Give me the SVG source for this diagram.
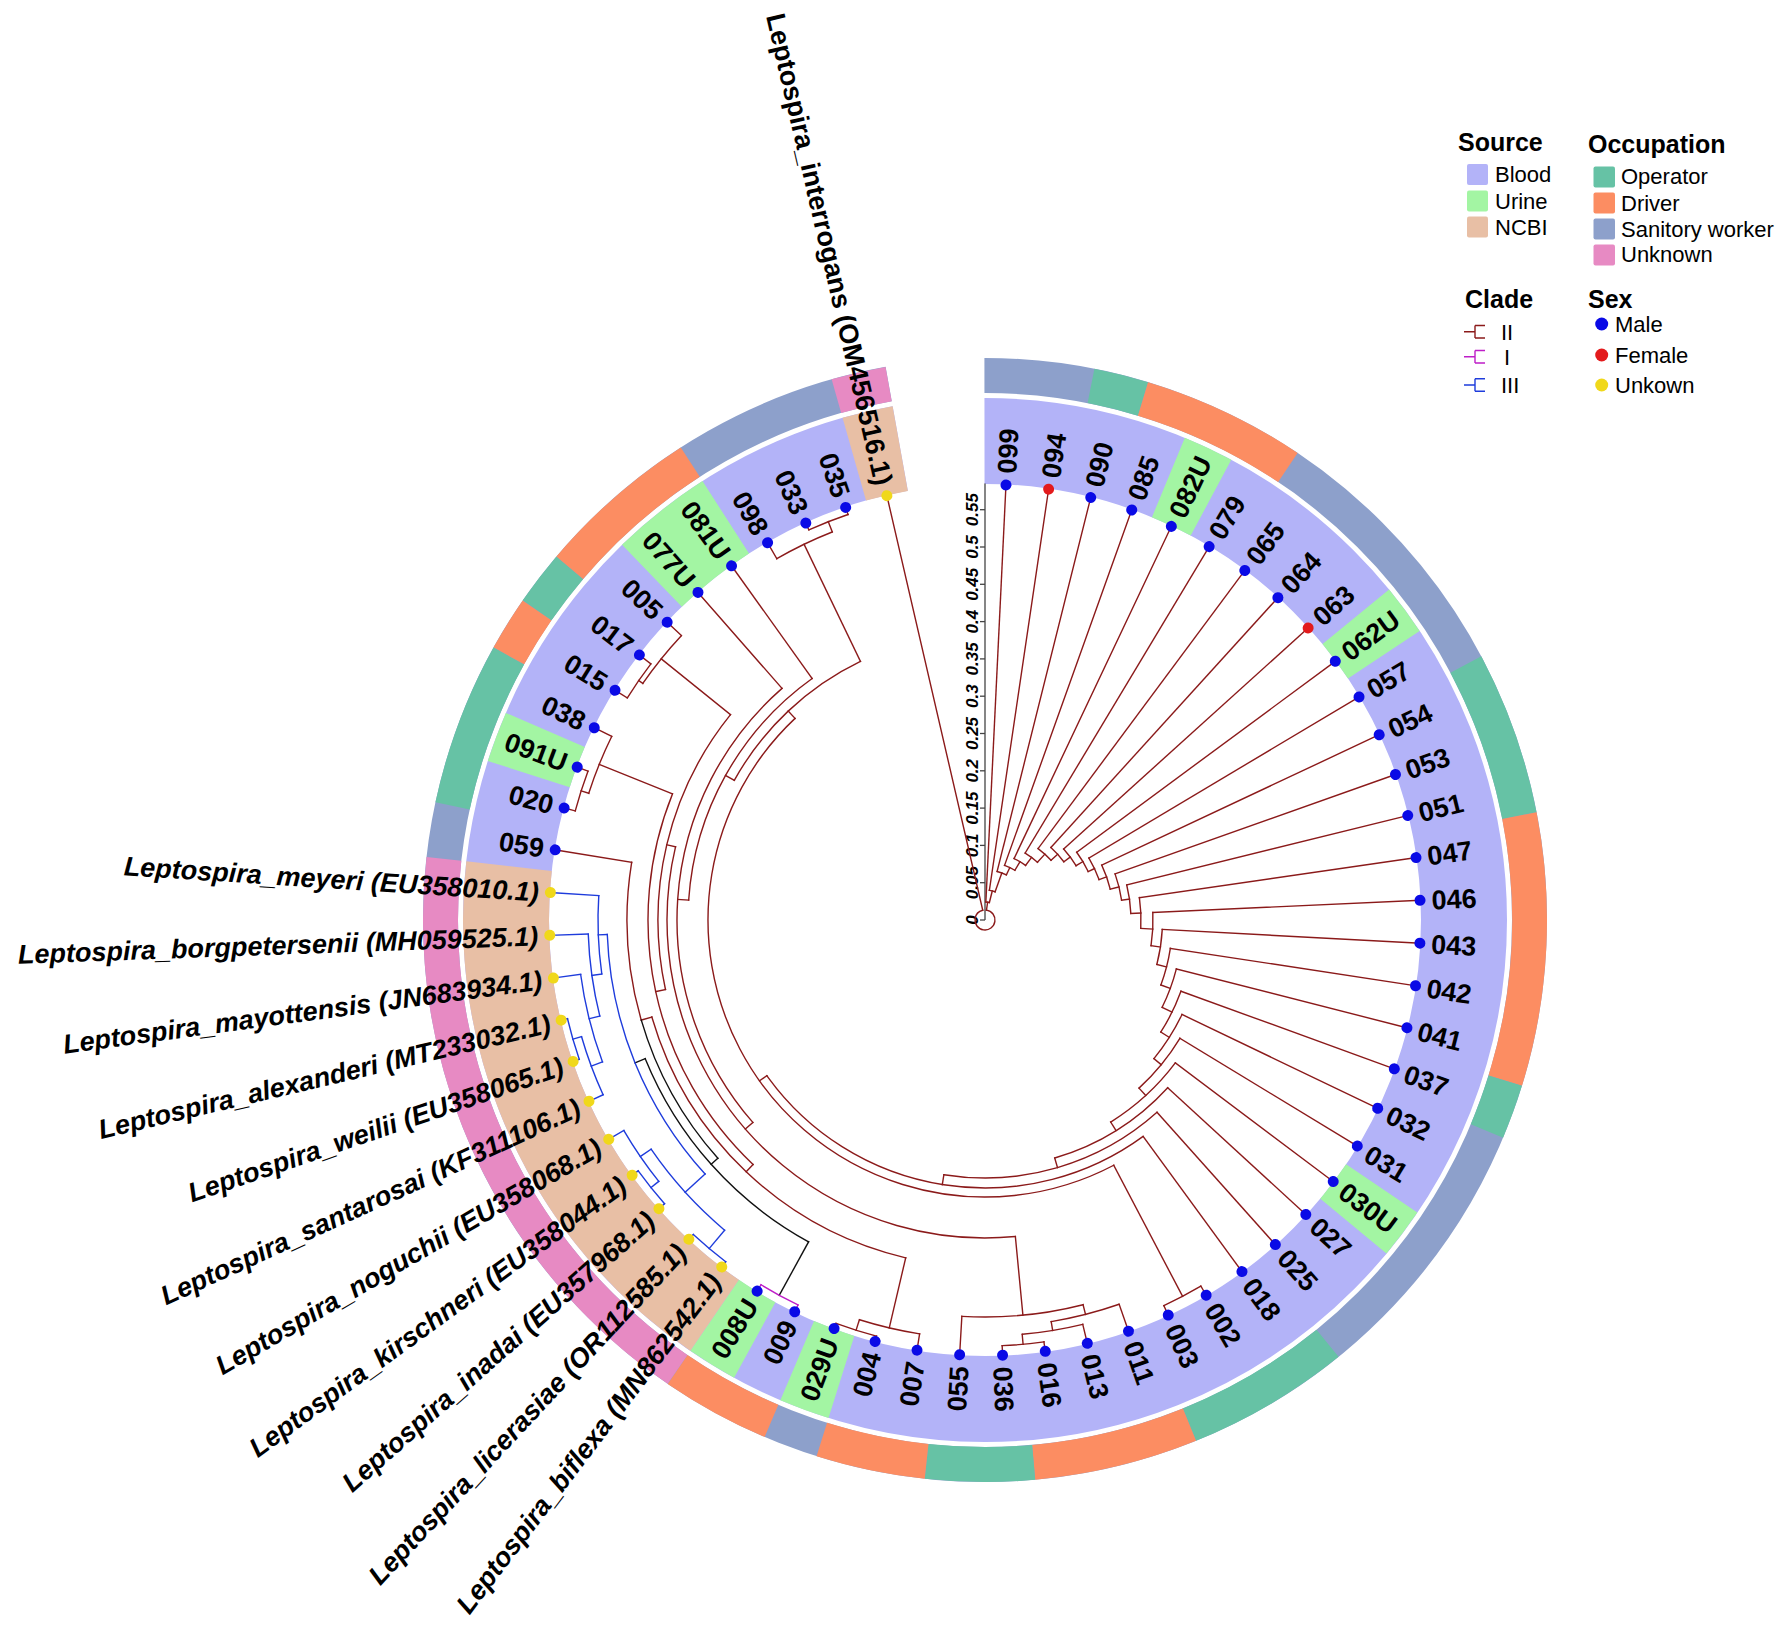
<svg xmlns="http://www.w3.org/2000/svg" width="1784" height="1628" viewBox="0 0 1784 1628">
<style>
text{font-family:'Liberation Sans',Arial,sans-serif;fill:#000}
.lab{font-weight:bold;font-size:27px}
.it{font-style:italic}
.br line,.br circle{fill:none;stroke-width:1.4;stroke-linecap:square}
.r{stroke:#8B1A1A}
.b3{stroke:#1E3CDC}
.b1{stroke:#BE1EC8}
.bk{stroke:#111}
.m{fill:#0A0AE6}
.f{fill:#E31A1C}
.u{fill:#F0D81A}
.ring circle{fill:none}
.leg{font-size:22px}
.legt{font-size:25px;font-weight:bold}
.ax{font-size:17px;font-weight:bold;font-style:italic}
</style>
<rect width="1784" height="1628" fill="#fff"/>

<g id="rings" class="ring" transform="translate(985 920)">
 <g stroke-width="86">
  <circle r="479" pathLength="360" stroke="#B3B3F8" stroke-dasharray="349.87 360" transform="rotate(-90.06)"/>
  <circle r="479" pathLength="360" stroke="#A3F5A3" stroke-dasharray="5.643 360" transform="rotate(-67.488)"/>
  <circle r="479" pathLength="360" stroke="#A3F5A3" stroke-dasharray="5.643 360" transform="rotate(-39.273)"/>
  <circle r="479" pathLength="360" stroke="#A3F5A3" stroke-dasharray="5.643 360" transform="rotate(34.086)"/>
  <circle r="479" pathLength="360" stroke="#A3F5A3" stroke-dasharray="5.643 360" transform="rotate(107.445)"/>
  <circle r="479" pathLength="360" stroke="#A3F5A3" stroke-dasharray="5.643 360" transform="rotate(118.731)"/>
  <circle r="479" pathLength="360" stroke="#E8BFA5" stroke-dasharray="62.073 360" transform="rotate(124.374)"/>
  <circle r="479" pathLength="360" stroke="#A3F5A3" stroke-dasharray="5.643 360" transform="rotate(197.733)"/>
  <circle r="479" pathLength="360" stroke="#A3F5A3" stroke-dasharray="11.286 360" transform="rotate(225.948)"/>
  <circle r="479" pathLength="360" stroke="#E8BFA5" stroke-dasharray="5.643 360" transform="rotate(254.163)"/>
 </g>
 <g stroke-width="35">
  <circle r="544.5" pathLength="360" stroke="#8DA0CB" stroke-dasharray="349.87 360" transform="rotate(-90.06)"/>
  <circle r="544.5" pathLength="360" stroke="#66C2A5" stroke-dasharray="5.643 360" transform="rotate(-78.774)"/>
  <circle r="544.5" pathLength="360" stroke="#FC8D62" stroke-dasharray="16.929 360" transform="rotate(-73.131)"/>
  <circle r="544.5" pathLength="360" stroke="#66C2A5" stroke-dasharray="16.929 360" transform="rotate(-27.987)"/>
  <circle r="544.5" pathLength="360" stroke="#FC8D62" stroke-dasharray="28.215 360" transform="rotate(-11.058)"/>
  <circle r="544.5" pathLength="360" stroke="#66C2A5" stroke-dasharray="5.643 360" transform="rotate(17.157)"/>
  <circle r="544.5" pathLength="360" stroke="#66C2A5" stroke-dasharray="16.929 360" transform="rotate(51.015)"/>
  <circle r="544.5" pathLength="360" stroke="#FC8D62" stroke-dasharray="16.929 360" transform="rotate(67.944)"/>
  <circle r="544.5" pathLength="360" stroke="#66C2A5" stroke-dasharray="11.286 360" transform="rotate(84.873)"/>
  <circle r="544.5" pathLength="360" stroke="#FC8D62" stroke-dasharray="11.286 360" transform="rotate(96.159)"/>
  <circle r="544.5" pathLength="360" stroke="#FC8D62" stroke-dasharray="11.286 360" transform="rotate(113.088)"/>
  <circle r="544.5" pathLength="360" stroke="#E78AC3" stroke-dasharray="62.073 360" transform="rotate(124.374)"/>
  <circle r="544.5" pathLength="360" stroke="#66C2A5" stroke-dasharray="16.929 360" transform="rotate(192.09)"/>
  <circle r="544.5" pathLength="360" stroke="#FC8D62" stroke-dasharray="5.643 360" transform="rotate(209.019)"/>
  <circle r="544.5" pathLength="360" stroke="#66C2A5" stroke-dasharray="5.643 360" transform="rotate(214.662)"/>
  <circle r="544.5" pathLength="360" stroke="#FC8D62" stroke-dasharray="16.929 360" transform="rotate(220.305)"/>
  <circle r="544.5" pathLength="360" stroke="#E78AC3" stroke-dasharray="5.643 360" transform="rotate(254.163)"/>
 </g>
</g>

<g id="scale-axis" transform="translate(985 0)">
 <line x1="0" y1="920" x2="0" y2="483.5" stroke="#444" stroke-width="1.3"/>
 <g stroke="#444" stroke-width="1.3">
  <line x1="-5" y1="920" x2="0" y2="920"/><line x1="-5" y1="882.7" x2="0" y2="882.7"/><line x1="-5" y1="845.4" x2="0" y2="845.4"/><line x1="-5" y1="808.1" x2="0" y2="808.1"/><line x1="-5" y1="770.8" x2="0" y2="770.8"/><line x1="-5" y1="733.5" x2="0" y2="733.5"/><line x1="-5" y1="696.2" x2="0" y2="696.2"/><line x1="-5" y1="658.9" x2="0" y2="658.9"/><line x1="-5" y1="621.6" x2="0" y2="621.6"/><line x1="-5" y1="584.3" x2="0" y2="584.3"/><line x1="-5" y1="547" x2="0" y2="547"/><line x1="-5" y1="509.7" x2="0" y2="509.7"/>
 </g>
 <g class="ax" text-anchor="middle">
  <text transform="translate(-7 920) rotate(-90)">0</text>
  <text transform="translate(-7 882.7) rotate(-90)">0.05</text>
  <text transform="translate(-7 845.4) rotate(-90)">0.1</text>
  <text transform="translate(-7 808.1) rotate(-90)">0.15</text>
  <text transform="translate(-7 770.8) rotate(-90)">0.2</text>
  <text transform="translate(-7 733.5) rotate(-90)">0.25</text>
  <text transform="translate(-7 696.2) rotate(-90)">0.3</text>
  <text transform="translate(-7 658.9) rotate(-90)">0.35</text>
  <text transform="translate(-7 621.6) rotate(-90)">0.4</text>
  <text transform="translate(-7 584.3) rotate(-90)">0.45</text>
  <text transform="translate(-7 547) rotate(-90)">0.5</text>
  <text transform="translate(-7 509.7) rotate(-90)">0.55</text>
 </g>
</g>

<g id="connectors" class="br" transform="translate(985 920)">
 <g class="r">
  <circle r="10" pathLength="360" stroke-dasharray="338.58 360" transform="rotate(-81.6)"/>
  <circle r="18" pathLength="360" stroke-dasharray="11.285 360" transform="rotate(-87.24)"/>
  <circle r="30" pathLength="360" stroke-dasharray="11.29 360" transform="rotate(-81.6)"/>
  <circle r="50" pathLength="360" stroke-dasharray="11.28 360" transform="rotate(-75.95)"/>
  <circle r="58" pathLength="360" stroke-dasharray="11.285 360" transform="rotate(-70.31)"/>
  <circle r="68" pathLength="360" stroke-dasharray="11.29 360" transform="rotate(-64.67)"/>
  <circle r="78" pathLength="360" stroke-dasharray="11.28 360" transform="rotate(-59.02)"/>
  <circle r="89" pathLength="360" stroke-dasharray="11.28 360" transform="rotate(-53.38)"/>
  <circle r="98" pathLength="360" stroke-dasharray="11.285 360" transform="rotate(-47.74)"/>
  <circle r="106" pathLength="360" stroke-dasharray="11.29 360" transform="rotate(-42.1)"/>
  <circle r="114" pathLength="360" stroke-dasharray="11.285 360" transform="rotate(-36.45)"/>
  <circle r="121" pathLength="360" stroke-dasharray="11.29 360" transform="rotate(-30.81)"/>
  <circle r="129" pathLength="360" stroke-dasharray="11.295 360" transform="rotate(-25.17)"/>
  <circle r="138" pathLength="360" stroke-dasharray="11.29 360" transform="rotate(-19.52)"/>
  <circle r="146" pathLength="360" stroke-dasharray="11.305 360" transform="rotate(-13.88)"/>
  <circle r="156" pathLength="360" stroke-dasharray="11.33 360" transform="rotate(-8.24)"/>
  <circle r="168" pathLength="360" stroke-dasharray="11.36 360" transform="rotate(-2.59)"/>
  <circle r="177.5" pathLength="360" stroke-dasharray="11.44 360" transform="rotate(3.05)"/>
  <circle r="187.5" pathLength="360" stroke-dasharray="11.595 360" transform="rotate(8.69)"/>
  <circle r="197.5" pathLength="360" stroke-dasharray="11.91 360" transform="rotate(14.33)"/>
  <circle r="208.5" pathLength="360" stroke-dasharray="12.52 360" transform="rotate(19.98)"/>
  <circle r="218.5" pathLength="360" stroke-dasharray="13.765 360" transform="rotate(25.62)"/>
  <circle r="228" pathLength="360" stroke-dasharray="16.25 360" transform="rotate(31.26)"/>
  <circle r="238" pathLength="360" stroke-dasharray="21.205 360" transform="rotate(36.91)"/>
  <circle r="248" pathLength="360" stroke-dasharray="31.13 360" transform="rotate(42.55)"/>
  <circle r="258" pathLength="360" stroke-dasharray="50.98 360" transform="rotate(48.19)"/>
  <circle r="268" pathLength="360" stroke-dasharray="90.66 360" transform="rotate(53.84)"/>
  <circle r="277" pathLength="360" stroke-dasharray="164.405 360" transform="rotate(62.3)"/>
  <circle r="287" pathLength="360" stroke-dasharray="35.16 360" transform="rotate(209.125)"/>
  <circle r="297" pathLength="360" stroke-dasharray="50.57 360" transform="rotate(183.84)"/>
  <circle r="308" pathLength="360" stroke-dasharray="89.855 360" transform="rotate(138.915)"/>
  <circle r="318" pathLength="360" stroke-dasharray="108.79 360" transform="rotate(84.52)"/>
  <circle r="327" pathLength="360" stroke-dasharray="51.165 360" transform="rotate(167.73)"/>
  <circle r="337" pathLength="360" stroke-dasharray="68.475 360" transform="rotate(133.49)"/>
  <circle r="347" pathLength="360" stroke-dasharray="60.555 360" transform="rotate(103.21)"/>
  <circle r="358" pathLength="360" stroke-dasharray="25.505 360" transform="rotate(163.765)"/>
  <circle r="419" pathLength="360" stroke-dasharray="8.465 360" transform="rotate(98.98)"/>
  <circle r="430" pathLength="360" stroke-dasharray="5.65 360" transform="rotate(104.62)"/>
  <circle r="397" pathLength="360" stroke-dasharray="17.64 360" transform="rotate(75.7)"/>
  <circle r="407" pathLength="360" stroke-dasharray="9.88 360" transform="rotate(70.76)"/>
  <circle r="416" pathLength="360" stroke-dasharray="8.46 360" transform="rotate(76.41)"/>
  <circle r="426" pathLength="360" stroke-dasharray="5.64 360" transform="rotate(82.05)"/>
  <circle r="416" pathLength="360" stroke-dasharray="8.47 360" transform="rotate(197.73)"/>
  <circle r="424" pathLength="360" stroke-dasharray="5.64 360" transform="rotate(194.91)"/>
  <circle r="416" pathLength="360" stroke-dasharray="8.47 360" transform="rotate(214.66)"/>
  <circle r="421" pathLength="360" stroke-dasharray="5.64 360" transform="rotate(211.84)"/>
  <circle r="417" pathLength="360" stroke-dasharray="8.47 360" transform="rotate(240.05)"/>
  <circle r="428" pathLength="360" stroke-dasharray="5.64 360" transform="rotate(245.7)"/>
  <circle r="425" pathLength="360" stroke-dasharray="5.64 360" transform="rotate(59.48)"/>
  <line y1="-10" y2="-18" transform="rotate(8.4)"/>
  <line y1="-10" y2="-435.5" transform="rotate(346.98)"/>
  <line y1="-18" y2="-435.5" transform="rotate(2.76)"/>
  <line y1="-18" y2="-30" transform="rotate(14.045)"/>
  <line y1="-30" y2="-435.5" transform="rotate(8.4)"/>
  <line y1="-30" y2="-50" transform="rotate(19.69)"/>
  <line y1="-50" y2="-435.5" transform="rotate(14.05)"/>
  <line y1="-50" y2="-58" transform="rotate(25.33)"/>
  <line y1="-58" y2="-435.5" transform="rotate(19.69)"/>
  <line y1="-58" y2="-68" transform="rotate(30.975)"/>
  <line y1="-68" y2="-435.5" transform="rotate(25.33)"/>
  <line y1="-68" y2="-78" transform="rotate(36.62)"/>
  <line y1="-78" y2="-435.5" transform="rotate(30.98)"/>
  <line y1="-78" y2="-89" transform="rotate(42.26)"/>
  <line y1="-89" y2="-435.5" transform="rotate(36.62)"/>
  <line y1="-89" y2="-98" transform="rotate(47.9)"/>
  <line y1="-98" y2="-435.5" transform="rotate(42.26)"/>
  <line y1="-98" y2="-106" transform="rotate(53.545)"/>
  <line y1="-106" y2="-435.5" transform="rotate(47.9)"/>
  <line y1="-106" y2="-114" transform="rotate(59.19)"/>
  <line y1="-114" y2="-435.5" transform="rotate(53.55)"/>
  <line y1="-114" y2="-121" transform="rotate(64.835)"/>
  <line y1="-121" y2="-435.5" transform="rotate(59.19)"/>
  <line y1="-121" y2="-129" transform="rotate(70.48)"/>
  <line y1="-129" y2="-435.5" transform="rotate(64.83)"/>
  <line y1="-129" y2="-138" transform="rotate(76.125)"/>
  <line y1="-138" y2="-435.5" transform="rotate(70.48)"/>
  <line y1="-138" y2="-146" transform="rotate(81.77)"/>
  <line y1="-146" y2="-435.5" transform="rotate(76.12)"/>
  <line y1="-146" y2="-156" transform="rotate(87.425)"/>
  <line y1="-156" y2="-435.5" transform="rotate(81.76)"/>
  <line y1="-156" y2="-168" transform="rotate(93.09)"/>
  <line y1="-168" y2="-435.5" transform="rotate(87.41)"/>
  <line y1="-168" y2="-177.5" transform="rotate(98.77)"/>
  <line y1="-177.5" y2="-435.5" transform="rotate(93.05)"/>
  <line y1="-177.5" y2="-187.5" transform="rotate(104.49)"/>
  <line y1="-187.5" y2="-435.5" transform="rotate(98.69)"/>
  <line y1="-187.5" y2="-197.5" transform="rotate(110.285)"/>
  <line y1="-197.5" y2="-435.5" transform="rotate(104.33)"/>
  <line y1="-197.5" y2="-208.5" transform="rotate(116.24)"/>
  <line y1="-208.5" y2="-435.5" transform="rotate(109.98)"/>
  <line y1="-208.5" y2="-218.5" transform="rotate(122.5)"/>
  <line y1="-218.5" y2="-435.5" transform="rotate(115.62)"/>
  <line y1="-218.5" y2="-228" transform="rotate(129.385)"/>
  <line y1="-228" y2="-435.5" transform="rotate(121.26)"/>
  <line y1="-228" y2="-238" transform="rotate(137.51)"/>
  <line y1="-238" y2="-435.5" transform="rotate(126.91)"/>
  <line y1="-238" y2="-248" transform="rotate(148.115)"/>
  <line y1="-248" y2="-435.5" transform="rotate(132.55)"/>
  <line y1="-248" y2="-258" transform="rotate(163.68)"/>
  <line y1="-258" y2="-435.5" transform="rotate(138.19)"/>
  <line y1="-258" y2="-268" transform="rotate(189.17)"/>
  <line y1="-268" y2="-435.5" transform="rotate(143.84)"/>
  <line y1="-268" y2="-277" transform="rotate(234.5)"/>
  <line y1="-277" y2="-425" transform="rotate(152.3)"/>
  <line y1="-277" y2="-287" transform="rotate(316.705)"/>
  <line y1="-425" y2="-435.5" transform="rotate(149.48)"/>
  <line y1="-425" y2="-435.5" transform="rotate(155.12)"/>
  <line y1="-287" y2="-417" transform="rotate(334.285)"/>
  <line y1="-287" y2="-297" transform="rotate(299.125)"/>
  <line y1="-417" y2="-435.5" transform="rotate(330.05)"/>
  <line y1="-417" y2="-428" transform="rotate(338.52)"/>
  <line y1="-428" y2="-435.5" transform="rotate(335.7)"/>
  <line y1="-428" y2="-435.5" transform="rotate(341.34)"/>
  <line y1="-297" y2="-435.5" transform="rotate(324.41)"/>
  <line y1="-297" y2="-308" transform="rotate(273.84)"/>
  <line y1="-308" y2="-435.5" transform="rotate(318.77)"/>
  <line y1="-308" y2="-318" transform="rotate(228.915)"/>
  <line y1="-318" y2="-397" transform="rotate(174.52)"/>
  <line y1="-318" y2="-327" transform="rotate(283.31)"/>
  <line y1="-397" y2="-435.5" transform="rotate(183.34)"/>
  <line y1="-397" y2="-407" transform="rotate(165.7)"/>
  <line y1="-407" y2="-435.5" transform="rotate(160.76)"/>
  <line y1="-407" y2="-416" transform="rotate(170.64)"/>
  <line y1="-416" y2="-435.5" transform="rotate(166.41)"/>
  <line y1="-416" y2="-426" transform="rotate(174.87)"/>
  <line y1="-426" y2="-435.5" transform="rotate(172.05)"/>
  <line y1="-426" y2="-435.5" transform="rotate(177.69)"/>
  <line y1="-327" y2="-416" transform="rotate(308.895)"/>
  <line y1="-327" y2="-337" transform="rotate(257.73)"/>
  <line y1="-416" y2="-435.5" transform="rotate(313.13)"/>
  <line y1="-416" y2="-421" transform="rotate(304.66)"/>
  <line y1="-421" y2="-435.5" transform="rotate(301.84)"/>
  <line y1="-421" y2="-435.5" transform="rotate(307.48)"/>
  <line y1="-337" y2="-416" transform="rotate(291.965)"/>
  <line y1="-337" y2="-347" transform="rotate(223.49)"/>
  <line y1="-416" y2="-435.5" transform="rotate(296.2)"/>
  <line y1="-416" y2="-424" transform="rotate(287.73)"/>
  <line y1="-424" y2="-435.5" transform="rotate(290.55)"/>
  <line y1="-424" y2="-435.5" transform="rotate(284.91)"/>
  <line y1="-347" y2="-419" transform="rotate(193.21)"/>
  <line y1="-347" y2="-358" transform="rotate(253.765)"/>
  <line y1="-419" y2="-435.5" transform="rotate(188.98)"/>
  <line y1="-419" y2="-430" transform="rotate(197.445)"/>
  <line y1="-430" y2="-435.5" transform="rotate(200.27)"/>
  <line y1="-430" y2="-435.5" transform="rotate(194.62)"/>
  <line y1="-358" y2="-435.5" transform="rotate(279.27)"/>
 </g>
 <g class="bk">
  <circle r="358" pathLength="360" stroke-dasharray="25.505 360" transform="rotate(138.26)"/>
  <circle r="367" pathLength="360" stroke-dasharray="39.06 360" transform="rotate(118.73)"/>
  <line y1="-358" y2="-367" transform="rotate(228.26)"/>
  <line y1="-367" y2="-378" transform="rotate(247.79)"/>
  <line y1="-367" y2="-428" transform="rotate(208.73)"/>
 </g>
 <g class="b1">
  <circle r="428" pathLength="360" stroke-dasharray="5.64 360" transform="rotate(115.91)"/>
  <line y1="-428" y2="-435.5" transform="rotate(205.91)"/>
  <line y1="-428" y2="-435.5" transform="rotate(211.55)"/>
 </g>
 <g class="b3">
  <circle r="378" pathLength="360" stroke-dasharray="40.025 360" transform="rotate(137.775)"/>
  <circle r="387" pathLength="360" stroke-dasharray="11.635 360" transform="rotate(171.985)"/>
  <circle r="397" pathLength="360" stroke-dasharray="11.99 360" transform="rotate(165.99)"/>
  <circle r="408" pathLength="360" stroke-dasharray="12.7 360" transform="rotate(159.64)"/>
  <circle r="420" pathLength="360" stroke-dasharray="8.465 360" transform="rotate(155.41)"/>
  <circle r="429" pathLength="360" stroke-dasharray="5.65 360" transform="rotate(161.05)"/>
  <circle r="405" pathLength="360" stroke-dasharray="15.52 360" transform="rotate(130.015)"/>
  <circle r="418" pathLength="360" stroke-dasharray="8.47 360" transform="rotate(141.3)"/>
  <circle r="428" pathLength="360" stroke-dasharray="5.64 360" transform="rotate(138.48)"/>
  <circle r="429" pathLength="360" stroke-dasharray="5.65 360" transform="rotate(127.19)"/>
  <line y1="-378" y2="-387" transform="rotate(267.8)"/>
  <line y1="-378" y2="-405" transform="rotate(227.775)"/>
  <line y1="-387" y2="-435.5" transform="rotate(273.62)"/>
  <line y1="-387" y2="-397" transform="rotate(261.985)"/>
  <line y1="-397" y2="-435.5" transform="rotate(267.98)"/>
  <line y1="-397" y2="-408" transform="rotate(255.99)"/>
  <line y1="-408" y2="-435.5" transform="rotate(262.34)"/>
  <line y1="-408" y2="-420" transform="rotate(249.64)"/>
  <line y1="-420" y2="-435.5" transform="rotate(245.41)"/>
  <line y1="-420" y2="-429" transform="rotate(253.875)"/>
  <line y1="-429" y2="-435.5" transform="rotate(256.7)"/>
  <line y1="-429" y2="-435.5" transform="rotate(251.05)"/>
  <line y1="-405" y2="-418" transform="rotate(235.535)"/>
  <line y1="-405" y2="-429" transform="rotate(220.015)"/>
  <line y1="-418" y2="-435.5" transform="rotate(239.77)"/>
  <line y1="-418" y2="-428" transform="rotate(231.3)"/>
  <line y1="-428" y2="-435.5" transform="rotate(234.12)"/>
  <line y1="-428" y2="-435.5" transform="rotate(228.48)"/>
  <line y1="-429" y2="-435.5" transform="rotate(222.84)"/>
  <line y1="-429" y2="-435.5" transform="rotate(217.19)"/>
 </g>
</g>

<g id="leaves" transform="translate(985 920)" class="lab">
 <g id="n099"><circle class="m" cy="-435.5" r="5.5" transform="rotate(2.76)"/><text x="447" dy="0.36em" transform="rotate(-87.24)">099</text></g>
 <g id="n094"><circle class="f" cy="-435.5" r="5.5" transform="rotate(8.4)"/><text x="447" dy="0.36em" transform="rotate(-81.6)">094</text></g>
 <g id="n090"><circle class="m" cy="-435.5" r="5.5" transform="rotate(14.05)"/><text x="447" dy="0.36em" transform="rotate(-75.95)">090</text></g>
 <g id="n085"><circle class="m" cy="-435.5" r="5.5" transform="rotate(19.69)"/><text x="447" dy="0.36em" transform="rotate(-70.31)">085</text></g>
 <g id="n082U"><circle class="m" cy="-435.5" r="5.5" transform="rotate(25.33)"/><text x="447" dy="0.36em" transform="rotate(-64.67)">082U</text></g>
 <g id="n079"><circle class="m" cy="-435.5" r="5.5" transform="rotate(30.98)"/><text x="447" dy="0.36em" transform="rotate(-59.02)">079</text></g>
 <g id="n065"><circle class="m" cy="-435.5" r="5.5" transform="rotate(36.62)"/><text x="447" dy="0.36em" transform="rotate(-53.38)">065</text></g>
 <g id="n064"><circle class="m" cy="-435.5" r="5.5" transform="rotate(42.26)"/><text x="447" dy="0.36em" transform="rotate(-47.74)">064</text></g>
 <g id="n063"><circle class="f" cy="-435.5" r="5.5" transform="rotate(47.9)"/><text x="447" dy="0.36em" transform="rotate(-42.1)">063</text></g>
 <g id="n062U"><circle class="m" cy="-435.5" r="5.5" transform="rotate(53.55)"/><text x="447" dy="0.36em" transform="rotate(-36.45)">062U</text></g>
 <g id="n057"><circle class="m" cy="-435.5" r="5.5" transform="rotate(59.19)"/><text x="447" dy="0.36em" transform="rotate(-30.81)">057</text></g>
 <g id="n054"><circle class="m" cy="-435.5" r="5.5" transform="rotate(64.83)"/><text x="447" dy="0.36em" transform="rotate(-25.17)">054</text></g>
 <g id="n053"><circle class="m" cy="-435.5" r="5.5" transform="rotate(70.48)"/><text x="447" dy="0.36em" transform="rotate(-19.52)">053</text></g>
 <g id="n051"><circle class="m" cy="-435.5" r="5.5" transform="rotate(76.12)"/><text x="447" dy="0.36em" transform="rotate(-13.88)">051</text></g>
 <g id="n047"><circle class="m" cy="-435.5" r="5.5" transform="rotate(81.76)"/><text x="447" dy="0.36em" transform="rotate(-8.24)">047</text></g>
 <g id="n046"><circle class="m" cy="-435.5" r="5.5" transform="rotate(87.41)"/><text x="447" dy="0.36em" transform="rotate(-2.59)">046</text></g>
 <g id="n043"><circle class="m" cy="-435.5" r="5.5" transform="rotate(93.05)"/><text x="447" dy="0.36em" transform="rotate(3.05)">043</text></g>
 <g id="n042"><circle class="m" cy="-435.5" r="5.5" transform="rotate(98.69)"/><text x="447" dy="0.36em" transform="rotate(8.69)">042</text></g>
 <g id="n041"><circle class="m" cy="-435.5" r="5.5" transform="rotate(104.33)"/><text x="447" dy="0.36em" transform="rotate(14.33)">041</text></g>
 <g id="n037"><circle class="m" cy="-435.5" r="5.5" transform="rotate(109.98)"/><text x="447" dy="0.36em" transform="rotate(19.98)">037</text></g>
 <g id="n032"><circle class="m" cy="-435.5" r="5.5" transform="rotate(115.62)"/><text x="447" dy="0.36em" transform="rotate(25.62)">032</text></g>
 <g id="n031"><circle class="m" cy="-435.5" r="5.5" transform="rotate(121.26)"/><text x="447" dy="0.36em" transform="rotate(31.26)">031</text></g>
 <g id="n030U"><circle class="m" cy="-435.5" r="5.5" transform="rotate(126.91)"/><text x="447" dy="0.36em" transform="rotate(36.91)">030U</text></g>
 <g id="n027"><circle class="m" cy="-435.5" r="5.5" transform="rotate(132.55)"/><text x="447" dy="0.36em" transform="rotate(42.55)">027</text></g>
 <g id="n025"><circle class="m" cy="-435.5" r="5.5" transform="rotate(138.19)"/><text x="447" dy="0.36em" transform="rotate(48.19)">025</text></g>
 <g id="n018"><circle class="m" cy="-435.5" r="5.5" transform="rotate(143.84)"/><text x="447" dy="0.36em" transform="rotate(53.84)">018</text></g>
 <g id="n002"><circle class="m" cy="-435.5" r="5.5" transform="rotate(149.48)"/><text x="447" dy="0.36em" transform="rotate(59.48)">002</text></g>
 <g id="n003"><circle class="m" cy="-435.5" r="5.5" transform="rotate(155.12)"/><text x="447" dy="0.36em" transform="rotate(65.12)">003</text></g>
 <g id="n011"><circle class="m" cy="-435.5" r="5.5" transform="rotate(160.76)"/><text x="447" dy="0.36em" transform="rotate(70.76)">011</text></g>
 <g id="n013"><circle class="m" cy="-435.5" r="5.5" transform="rotate(166.41)"/><text x="447" dy="0.36em" transform="rotate(76.41)">013</text></g>
 <g id="n016"><circle class="m" cy="-435.5" r="5.5" transform="rotate(172.05)"/><text x="447" dy="0.36em" transform="rotate(82.05)">016</text></g>
 <g id="n036"><circle class="m" cy="-435.5" r="5.5" transform="rotate(177.69)"/><text x="447" dy="0.36em" transform="rotate(87.69)">036</text></g>
 <g text-anchor="end">
 <g id="n055"><circle class="m" cy="-435.5" r="5.5" transform="rotate(183.34)"/><text x="-447" dy="0.36em" transform="rotate(273.34)">055</text></g>
 <g id="n007"><circle class="m" cy="-435.5" r="5.5" transform="rotate(188.98)"/><text x="-447" dy="0.36em" transform="rotate(278.98)">007</text></g>
 <g id="n004"><circle class="m" cy="-435.5" r="5.5" transform="rotate(194.62)"/><text x="-447" dy="0.36em" transform="rotate(284.62)">004</text></g>
 <g id="n029U"><circle class="m" cy="-435.5" r="5.5" transform="rotate(200.27)"/><text x="-447" dy="0.36em" transform="rotate(290.27)">029U</text></g>
 <g id="n009"><circle class="m" cy="-435.5" r="5.5" transform="rotate(205.91)"/><text x="-447" dy="0.36em" transform="rotate(295.91)">009</text></g>
 <g id="n008U"><circle class="m" cy="-435.5" r="5.5" transform="rotate(211.55)"/><text x="-447" dy="0.36em" transform="rotate(301.55)">008U</text></g>
 <g id="n-biflexa"><circle class="u" cy="-435.5" r="5.5" transform="rotate(217.19)"/><text class="it" x="-447" dy="0.36em" transform="rotate(307.19)">Leptospira_biflexa (MN862542.1)</text></g>
 <g id="n-licerasiae"><circle class="u" cy="-435.5" r="5.5" transform="rotate(222.84)"/><text class="it" x="-447" dy="0.36em" transform="rotate(312.84)">Leptospira_licerasiae (OR112585.1)</text></g>
 <g id="n-inadai"><circle class="u" cy="-435.5" r="5.5" transform="rotate(228.48)"/><text class="it" x="-447" dy="0.36em" transform="rotate(318.48)">Leptospira_inadai (EU357968.1)</text></g>
 <g id="n-kirschneri"><circle class="u" cy="-435.5" r="5.5" transform="rotate(234.12)"/><text class="it" x="-447" dy="0.36em" transform="rotate(324.12)">Leptospira_kirschneri (EU358044.1)</text></g>
 <g id="n-noguchii"><circle class="u" cy="-435.5" r="5.5" transform="rotate(239.77)"/><text class="it" x="-447" dy="0.36em" transform="rotate(329.77)">Leptospira_noguchii (EU358068.1)</text></g>
 <g id="n-santarosai"><circle class="u" cy="-435.5" r="5.5" transform="rotate(245.41)"/><text class="it" x="-447" dy="0.36em" transform="rotate(335.41)">Leptospira_santarosai (KF311106.1)</text></g>
 <g id="n-weilii"><circle class="u" cy="-435.5" r="5.5" transform="rotate(251.05)"/><text class="it" x="-447" dy="0.36em" transform="rotate(341.05)">Leptospira_weilii (EU358065.1)</text></g>
 <g id="n-alexanderi"><circle class="u" cy="-435.5" r="5.5" transform="rotate(256.7)"/><text class="it" x="-447" dy="0.36em" transform="rotate(346.7)">Leptospira_alexanderi (MT233032.1)</text></g>
 <g id="n-mayottensis"><circle class="u" cy="-435.5" r="5.5" transform="rotate(262.34)"/><text class="it" x="-447" dy="0.36em" transform="rotate(352.34)">Leptospira_mayottensis (JN683934.1)</text></g>
 <g id="n-borgpetersenii"><circle class="u" cy="-435.5" r="5.5" transform="rotate(267.98)"/><text class="it" x="-447" dy="0.36em" transform="rotate(357.98)">Leptospira_borgpetersenii (MH059525.1)</text></g>
 <g id="n-meyeri"><circle class="u" cy="-435.5" r="5.5" transform="rotate(273.62)"/><text class="it" x="-447" dy="0.36em" transform="rotate(363.62)">Leptospira_meyeri (EU358010.1)</text></g>
 <g id="n059"><circle class="m" cy="-435.5" r="5.5" transform="rotate(279.27)"/><text x="-447" dy="0.36em" transform="rotate(369.27)">059</text></g>
 <g id="n020"><circle class="m" cy="-435.5" r="5.5" transform="rotate(284.91)"/><text x="-447" dy="0.36em" transform="rotate(374.91)">020</text></g>
 <g id="n091U"><circle class="m" cy="-435.5" r="5.5" transform="rotate(290.55)"/><text x="-447" dy="0.36em" transform="rotate(380.55)">091U</text></g>
 <g id="n038"><circle class="m" cy="-435.5" r="5.5" transform="rotate(296.2)"/><text x="-447" dy="0.36em" transform="rotate(386.2)">038</text></g>
 <g id="n015"><circle class="m" cy="-435.5" r="5.5" transform="rotate(301.84)"/><text x="-447" dy="0.36em" transform="rotate(391.84)">015</text></g>
 <g id="n017"><circle class="m" cy="-435.5" r="5.5" transform="rotate(307.48)"/><text x="-447" dy="0.36em" transform="rotate(397.48)">017</text></g>
 <g id="n005"><circle class="m" cy="-435.5" r="5.5" transform="rotate(313.13)"/><text x="-447" dy="0.36em" transform="rotate(403.13)">005</text></g>
 <g id="n077U"><circle class="m" cy="-435.5" r="5.5" transform="rotate(318.77)"/><text x="-447" dy="0.36em" transform="rotate(408.77)">077U</text></g>
 <g id="n081U"><circle class="m" cy="-435.5" r="5.5" transform="rotate(324.41)"/><text x="-447" dy="0.36em" transform="rotate(414.41)">081U</text></g>
 <g id="n098"><circle class="m" cy="-435.5" r="5.5" transform="rotate(330.05)"/><text x="-447" dy="0.36em" transform="rotate(420.05)">098</text></g>
 <g id="n033"><circle class="m" cy="-435.5" r="5.5" transform="rotate(335.7)"/><text x="-447" dy="0.36em" transform="rotate(425.7)">033</text></g>
 <g id="n035"><circle class="m" cy="-435.5" r="5.5" transform="rotate(341.34)"/><text x="-447" dy="0.36em" transform="rotate(431.34)">035</text></g>
 <g id="n-interrogans"><circle class="u" cy="-435.5" r="5.5" transform="rotate(346.98)"/><text x="-447" dy="0.36em" transform="rotate(436.98)">Leptospira_interrogans (OM456516.1)</text></g>
 </g>
</g>

<g id="legend">
 <text class="legt" x="1458" y="151">Source</text>
 <rect x="1467" y="164" width="21" height="21" rx="2" fill="#B3B3F8"/><text class="leg" x="1495" y="182">Blood</text>
 <rect x="1467" y="190.5" width="21" height="21" rx="2" fill="#A3F5A3"/><text class="leg" x="1495" y="208.5">Urine</text>
 <rect x="1467" y="216.5" width="21" height="21" rx="2" fill="#E8BFA5"/><text class="leg" x="1495" y="234.5">NCBI</text>
 <text class="legt" x="1588" y="153">Occupation</text>
 <rect x="1593.5" y="166.5" width="21.5" height="21" rx="2" fill="#66C2A5"/><text class="leg" x="1621" y="184">Operator</text>
 <rect x="1593.5" y="192.5" width="21.5" height="21" rx="2" fill="#FC8D62"/><text class="leg" x="1621" y="210.5">Driver</text>
 <rect x="1593.5" y="218.5" width="21.5" height="21" rx="2" fill="#8DA0CB"/><text class="leg" x="1621" y="236.5">Sanitory worker</text>
 <rect x="1593.5" y="244.5" width="21.5" height="21" rx="2" fill="#E78AC3"/><text class="leg" x="1621" y="262">Unknown</text>
 <text class="legt" x="1465" y="308">Clade</text>
 <path d="M1464 331.7H1475M1475 325.5V338M1475 325.5H1485M1475 338H1485" fill="none" stroke="#8B1A1A" stroke-width="1.4"/>
 <text class="leg" x="1501" y="339.5">II</text>
 <path d="M1464 356.7H1475M1475 350.5V363M1475 350.5H1485M1475 363H1485" fill="none" stroke="#BE1EC8" stroke-width="1.4"/>
 <text class="leg" x="1504" y="364.5">I</text>
 <path d="M1464 385H1475M1475 378.8V391.3M1475 378.8H1485M1475 391.3H1485" fill="none" stroke="#1E3CDC" stroke-width="1.4"/>
 <text class="leg" x="1501" y="392.8">III</text>
 <text class="legt" x="1588" y="308">Sex</text>
 <circle cx="1601.7" cy="324" r="6.5" class="m"/><text class="leg" x="1615" y="331.5">Male</text>
 <circle cx="1601.7" cy="355" r="6.5" class="f"/><text class="leg" x="1615" y="362.5">Female</text>
 <circle cx="1601.7" cy="385" r="6.5" class="u"/><text class="leg" x="1615" y="392.5">Unkown</text>
</g>
</svg>
